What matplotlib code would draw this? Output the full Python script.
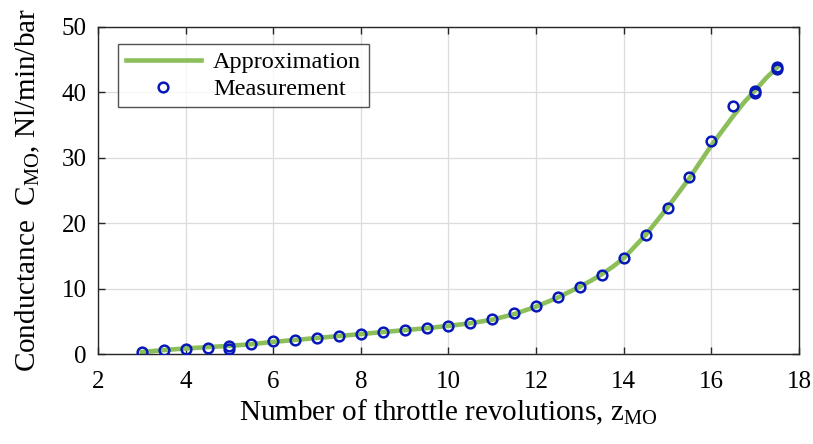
import matplotlib
matplotlib.use("Agg")
import matplotlib.pyplot as plt

plt.rcParams["font.family"] = ["Liberation Serif", "DejaVu Serif"]
plt.rcParams["mathtext.fontset"] = "custom"
plt.rcParams["mathtext.rm"] = "Liberation Serif"
plt.rcParams["mathtext.it"] = "Liberation Serif:italic"

# Approximation curve (throttle revolutions -> conductance)
z_fit = [3.0, 3.5, 4.0, 4.5, 5.0, 5.5, 6.0, 6.5, 7.0, 7.5, 8.0, 8.5, 9.0, 9.5,
         10.0, 10.5, 11.0, 11.5, 12.0, 12.5, 13.0, 13.25, 13.5, 13.75, 14.0,
         14.5, 15.0, 15.5, 16.0, 16.5, 16.75, 17.0, 17.25, 17.5]
c_fit = [0.3, 0.6, 0.85, 1.05, 1.25, 1.5, 1.85, 2.15, 2.45, 2.75, 3.05, 3.35,
         3.65, 3.95, 4.3, 4.7, 5.25, 6.1, 7.25, 8.65, 10.3, 11.2, 12.2, 13.35,
         14.65, 18.2, 22.4, 26.9, 31.9, 36.4, 38.5, 40.3, 42.2, 43.8]

# Measured conductance
z_meas = [3.0, 3.5, 4.0, 4.5, 5.0, 5.0, 5.5, 6.0, 6.5, 7.0, 7.5, 8.0, 8.5,
          9.0, 9.5, 10.0, 10.5, 11.0, 11.5, 12.0, 12.5, 13.0, 13.5, 14.0,
          14.5, 15.0, 15.5, 16.0, 16.5, 17.0, 17.0, 17.5, 17.5]
c_meas = [0.25, 0.56, 0.81, 0.96, 1.27, 0.76, 1.53, 1.94, 2.2, 2.5, 2.75,
          3.1, 3.33, 3.72, 3.97, 4.27, 4.78, 5.39, 6.3, 7.37, 8.75, 10.27,
          12.1, 14.7, 18.2, 22.4, 27.0, 32.5, 37.9, 40.25, 39.85, 43.6, 43.95]

x_ticks = [2, 4, 6, 8, 10, 12, 14, 16, 18]
y_ticks = [0, 10, 20, 30, 40, 50]

fig = plt.figure(figsize=(8.13, 4.44), dpi=100)
ax = fig.add_axes([0.1205, 0.2027, 0.8623, 0.7365])

ax.plot(z_fit, c_fit, color="#8cbf5a", lw=3.3, label="Approximation", zorder=2)
ax.plot(z_meas, c_meas, linestyle="none", marker="o", markersize=7,
        markerfacecolor="none", markeredgecolor="#0618b8", markeredgewidth=1.8,
        label="Measurement", zorder=3)

ax.set_xlim(2, 18)
ax.set_ylim(0, 50)
ax.set_xticks(x_ticks)
ax.set_yticks(y_ticks)
ax.grid(True, color="#dcdcdc", lw=0.9)
ax.set_axisbelow(True)
ax.tick_params(direction="in", top=True, right=True, length=5, width=1,
               color="#262626", labelsize=18)
ax.tick_params(axis="x", pad=12)
ax.tick_params(axis="y", pad=8)
for s in ax.spines.values():
    s.set_color("#262626")
    s.set_linewidth(1.0)

ax.set_xlabel(r"Number of throttle revolutions, z$_{\mathrm{MO}}$", fontsize=21,
              labelpad=4)
ax.set_ylabel(r"Conductance  C$_{\mathrm{MO}}$, Nl/min/bar", fontsize=21,
              labelpad=14)

leg = ax.legend(loc="upper left", bbox_to_anchor=(0.029, 0.948), fontsize=17.5,
                frameon=True, fancybox=False, edgecolor="#262626",
                handlelength=3.1, borderpad=0.3, labelspacing=0.2,
                handletextpad=0.5, borderaxespad=0)
leg.get_frame().set_linewidth(1.0)

fig.savefig("out.png", dpi=100)
